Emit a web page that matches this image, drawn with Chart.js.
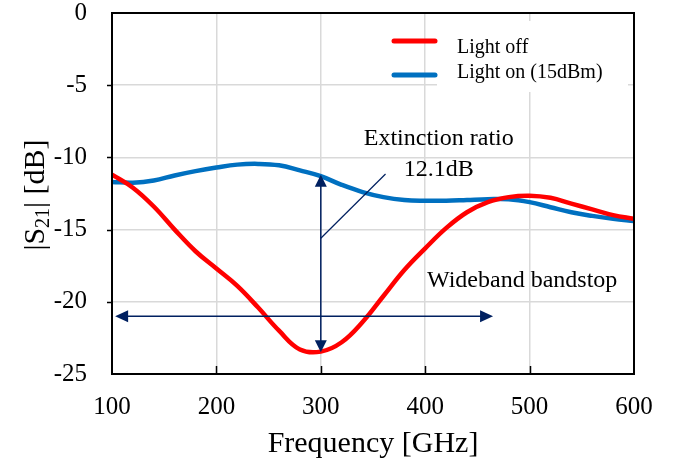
<!DOCTYPE html>
<html>
<head>
<meta charset="utf-8">
<script src="https://cdn.jsdelivr.net/npm/chart.js@4.4.1/dist/chart.umd.min.js"></script>
<style>
  html, body { margin: 0; padding: 0; background: #fff; }
</style>
</head>
<body>
<canvas id="chart" width="680" height="467"></canvas>
<script>
/* ── Data ─────────────────────────────────────────────────────── */

const freq = [100, 120, 140, 160, 180, 200, 220, 240, 260, 280, 300, 320, 340,
              360, 380, 400, 420, 440, 460, 480, 500, 520, 540, 560, 580, 600];
const lightOff = [-11.2, -12.1, -13.4, -15.0, -16.5, -17.7, -18.9, -20.4, -22.0, -23.3, -23.45, -22.8, -21.4,
                  -19.6, -17.8, -16.3, -14.9, -13.8, -13.1, -12.75, -12.65, -12.8, -13.2, -13.6, -14.0, -14.25];
const lightOn = [-11.7, -11.75, -11.6, -11.25, -10.95, -10.7, -10.5, -10.45, -10.55, -10.9, -11.3, -11.9, -12.4,
                 -12.75, -12.95, -13.0, -13.0, -12.95, -12.9, -12.9, -13.1, -13.45, -13.8, -14.05, -14.25, -14.4];

const seriesNames = ['Light off', 'Light on (15dBm)'];
const seriesColors = ['#ff0000', '#0070c0'];

/* annotation anchors, in data units */
const extArrow = { x: 300, top: -11.2, bottom: -23.5 };
const bandArrow = { y: -21, left: 103, right: 465 };
const leaderLine = [[300, -15.6], [362, -11.15]];
const NAVY = '#002060';
const SERIF = '"Liberation Serif", "Times New Roman", serif';

/* ── Helpers ──────────────────────────────────────────────────── */

function arrowHead(ctx, tx, ty, dx, dy, len = 12, half = 6) {
    const bx = tx - dx * len, by = ty - dy * len;
    ctx.beginPath();
    ctx.moveTo(tx, ty);
    ctx.lineTo(bx - dy * half, by + dx * half);
    ctx.lineTo(bx + dy * half, by - dx * half);
    ctx.closePath();
    ctx.fill();
}

const decor = {
    id: 'decor',
    beforeDatasetsDraw(chart) {
        // white legend backing, hides the grid behind the labels
        const ctx = chart.ctx;
        ctx.save();
        ctx.fillStyle = '#fff';
        ctx.fillRect(437, 21, 191, 71);
        ctx.restore();
    },
    afterDatasetsDraw(chart) {
        const { ctx, chartArea: a, scales: { x, y } } = chart;
        ctx.save();

        // frame
        ctx.strokeStyle = '#000';
        ctx.lineWidth = 2;
        ctx.strokeRect(a.left, a.top, a.right - a.left, a.bottom - a.top);

        // tick marks: x inward, y outward
        ctx.lineWidth = 1.5;
        ctx.beginPath();
        [200, 300, 400, 500].forEach(v => {
            const px = Math.round(x.getPixelForValue(v)) + 0.5;
            ctx.moveTo(px, a.bottom); ctx.lineTo(px, a.bottom - 8);
        });
        [-5, -10, -15, -20].forEach(v => {
            const py = Math.round(y.getPixelForValue(v)) + 0.5;
            ctx.moveTo(a.left - 5, py); ctx.lineTo(a.left, py);
        });
        ctx.stroke();

        // arrows
        ctx.strokeStyle = NAVY;
        ctx.fillStyle = NAVY;
        ctx.lineWidth = 1.5;
        const ax = x.getPixelForValue(extArrow.x);
        const at = y.getPixelForValue(extArrow.top), ab = y.getPixelForValue(extArrow.bottom);
        ctx.beginPath(); ctx.moveTo(ax, at + 8); ctx.lineTo(ax, ab - 8); ctx.stroke();
        arrowHead(ctx, ax, at, 0, -1);
        arrowHead(ctx, ax, ab, 0, 1);

        const hy = y.getPixelForValue(bandArrow.y);
        const hl = x.getPixelForValue(bandArrow.left), hr = x.getPixelForValue(bandArrow.right);
        ctx.beginPath(); ctx.moveTo(hl + 8, hy); ctx.lineTo(hr - 8, hy); ctx.stroke();
        arrowHead(ctx, hl, hy, -1, 0, 13);
        arrowHead(ctx, hr, hy, 1, 0, 13);

        ctx.lineWidth = 1.2;
        ctx.beginPath();
        ctx.moveTo(x.getPixelForValue(leaderLine[0][0]), y.getPixelForValue(leaderLine[0][1]));
        ctx.lineTo(x.getPixelForValue(leaderLine[1][0]), y.getPixelForValue(leaderLine[1][1]));
        ctx.stroke();

        // annotation text
        ctx.fillStyle = '#000';
        ctx.textBaseline = 'alphabetic';
        ctx.font = '24px ' + SERIF;
        ctx.textAlign = 'center';
        ctx.fillText('Extinction ratio', x.getPixelForValue(413), y.getPixelForValue(-9.14));
        ctx.fillText('12.1dB', x.getPixelForValue(413), y.getPixelForValue(-11.29));
        ctx.textAlign = 'left';
        ctx.fillText('Wideband bandstop', x.getPixelForValue(401.7), y.getPixelForValue(-18.97));

        // legend
        ctx.lineCap = 'round';
        ctx.lineWidth = 5;
        [41, 75].forEach((ly, i) => {
            ctx.strokeStyle = seriesColors[i];
            ctx.beginPath(); ctx.moveTo(394, ly); ctx.lineTo(435, ly); ctx.stroke();
        });
        ctx.font = '20px ' + SERIF;
        ctx.fillText(seriesNames[0], 457, 53);
        ctx.fillText(seriesNames[1], 457, 78);

        // y title with subscript
        ctx.translate(44, 195);
        ctx.rotate(-Math.PI / 2);
        const big = '30px ' + SERIF, small = '20px ' + SERIF;
        const parts = [['|S', big, 0], ['21', small, 5], ['| [dB]', big, 0]];
        let total = 0;
        parts.forEach(p => { ctx.font = p[1]; total += ctx.measureText(p[0]).width; });
        let cx = -total / 2;
        parts.forEach(p => {
            ctx.font = p[1];
            ctx.fillText(p[0], cx, p[2]);
            cx += ctx.measureText(p[0]).width;
        });
        ctx.restore();
    }
};

/* ── Chart ────────────────────────────────────────────────────── */

const toXY = vals => vals.map((v, i) => ({ x: freq[i], y: v }));

new Chart(document.getElementById('chart'), {
    type: 'line',
    data: {
        datasets: [
            { label: seriesNames[0], data: toXY(lightOff), borderColor: seriesColors[0],
              borderWidth: 4.5, pointRadius: 0, tension: 0.4, fill: false },
            { label: seriesNames[1], data: toXY(lightOn), borderColor: seriesColors[1],
              borderWidth: 4.5, pointRadius: 0, tension: 0.4, fill: false },
        ]
    },
    options: {
        responsive: false,
        animation: false,
        devicePixelRatio: 1,
        layout: { padding: { top: 13, right: 46, left: 0, bottom: 0 } },
        scales: {
            x: {
                type: 'linear', min: 100, max: 600,
                afterFit: s => { s.height = 93; s.paddingLeft = 0; s.paddingRight = 0; },
                ticks: { stepSize: 100, padding: 18, color: '#000', font: { family: SERIF, size: 25 } },
                grid: { color: '#d9d9d9', lineWidth: 1.5, drawTicks: false },
                border: { display: false },
                title: { display: true, text: 'Frequency [GHz]', color: '#000',
                         font: { family: SERIF, size: 30 }, padding: { top: 0, bottom: 5 } },
            },
            y: {
                type: 'linear', min: -25, max: 0,
                afterFit: s => { s.width = 112; s.paddingTop = 0; s.paddingBottom = 0; },
                ticks: { stepSize: 5, padding: 25, color: '#000', font: { family: SERIF, size: 25 } },
                grid: { color: '#d9d9d9', lineWidth: 1.5, drawTicks: false },
                border: { display: false },
            }
        },
        plugins: { legend: { display: false }, tooltip: { enabled: false } }
    },
    plugins: [decor]
});
</script>
</body>
</html>
